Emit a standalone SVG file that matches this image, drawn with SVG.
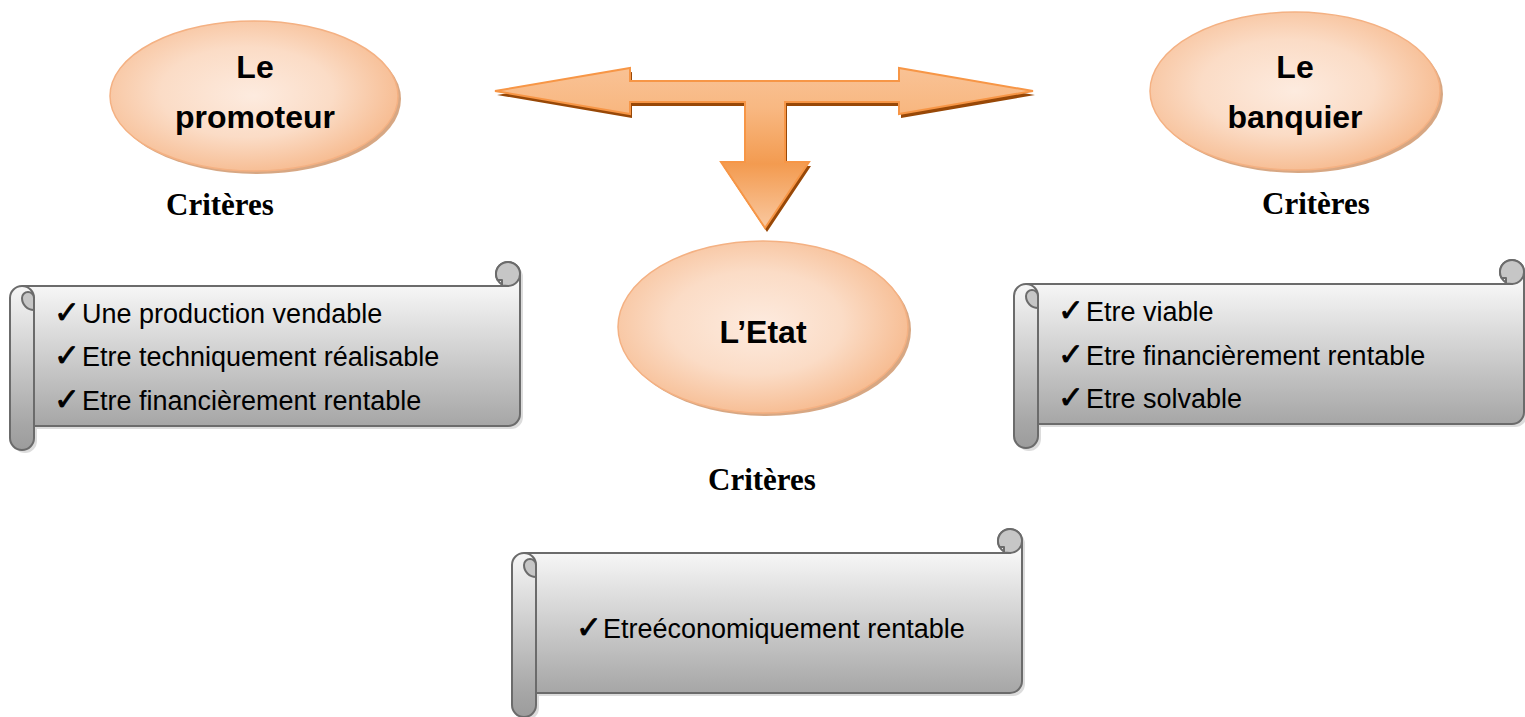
<svg xmlns="http://www.w3.org/2000/svg" xmlns:xlink="http://www.w3.org/1999/xlink" width="1525" height="717" viewBox="0 0 1525 717">
<style>
.ell{fill:url(#ellGrad);stroke:#f4b183;stroke-width:1.5}
.ellsh{fill:#c98a5a;opacity:0.75}
.title{font-family:"Liberation Sans",Arial,sans-serif;font-weight:bold;font-size:32px;fill:#000;text-anchor:middle}
.crit{font-family:"Liberation Serif","Times New Roman",serif;font-weight:bold;font-size:31px;fill:#000}
.item{font-family:"Liberation Sans",Arial,sans-serif;font-size:27px;fill:#000}
.chk{font-family:"DejaVu Sans",sans-serif;font-size:31px;stroke:#000;stroke-width:0.8}
.sc-out{fill:url(#scGrad);stroke:#6b6b6b;stroke-width:2;stroke-linejoin:round}
.sc-line{fill:none;stroke:#6b6b6b;stroke-width:2;stroke-linejoin:round}
.sc-dark{fill:#c6c6c6;stroke:#6b6b6b;stroke-width:2;stroke-linejoin:round}
.sc-sh{fill:#9a9a9a;opacity:0.35}
</style>
<defs>
<radialGradient id="ellGrad" cx="0.45" cy="0.45" r="0.6" fx="0.5" fy="0.5">
<stop offset="0" stop-color="#fdebdf"/>
<stop offset="0.5" stop-color="#fbdcc6"/>
<stop offset="1" stop-color="#f6b88b"/>
</radialGradient>
<linearGradient id="scGrad" x1="0" y1="0" x2="0" y2="1">
<stop offset="0" stop-color="#ffffff"/>
<stop offset="0.13" stop-color="#f6f6f6"/>
<stop offset="0.87" stop-color="#a6a6a6"/>
<stop offset="1" stop-color="#9c9c9c"/>
</linearGradient>
<linearGradient id="arGrad" gradientUnits="userSpaceOnUse" x1="0" y1="68" x2="0" y2="228">
<stop offset="0" stop-color="#f9c295"/>
<stop offset="0.25" stop-color="#f8b882"/>
<stop offset="0.6" stop-color="#f39b50"/>
<stop offset="1" stop-color="#f9c8a0"/>
</linearGradient>
<g id="scroll">
<path class="sc-sh" transform="translate(3,3)" d="M 0,36 A 12 12 0 0 1 12,24 H 498 A 12 12 0 1 1 510,12 V 152 A 12 12 0 0 1 498,164 H 24 V 176 A 12 12 0 0 1 0,176 Z"/>
<path class="sc-out" d="M 0,36 A 12 12 0 0 1 12,24 H 498 A 12 12 0 1 1 510,12 V 152 A 12 12 0 0 1 498,164 H 24 V 176 A 12 12 0 0 1 0,176 Z"/>
<path class="sc-line" d="M 12,24 A 12 12 0 0 1 24,36 V 164"/>
<path class="sc-dark" d="M 24,36 A 6 6 0 0 0 12,36 A 12 12 0 0 0 24,48 Z"/>
<path class="sc-dark" d="M 492,23.5 V 18 H 487.6 A 12 12 0 1 1 498,24 Z"/>
</g>
</defs>
<rect width="1525" height="717" fill="#ffffff"/>

<g id="connectors">
<polygon transform="translate(2,4)" fill="#984807" points="495,91 630,68 630,81 899,81 899,68 1033,91 899,114 899,102 785,102 785,162 809,162 765,228 721,162 745,162 745,102 630,102 630,114"/>
<polygon fill="url(#arGrad)" stroke="#f79646" stroke-width="2" stroke-linejoin="miter" points="495,91 630,68 630,81 899,81 899,68 1033,91 899,114 899,102 785,102 785,162 809,162 765,228 721,162 745,162 745,102 630,102 630,114"/>
</g>

<g id="node-promoteur">
<ellipse class="ellsh" cx="257" cy="99" rx="144" ry="75"/>
<ellipse class="ell" cx="254" cy="96" rx="144" ry="75"/>
<text class="title" x="255" y="78">Le</text>
<text class="title" x="255" y="128">promoteur</text>
</g>

<g id="node-banquier">
<ellipse class="ellsh" cx="1298" cy="94" rx="145" ry="79"/>
<ellipse class="ell" cx="1295" cy="91" rx="145" ry="79"/>
<text class="title" x="1295" y="78">Le</text>
<text class="title" x="1295" y="128">banquier</text>
</g>

<g id="node-etat">
<ellipse class="ellsh" cx="766" cy="330" rx="145" ry="86"/>
<ellipse class="ell" cx="763" cy="327" rx="145" ry="86"/>
<text class="title" x="763" y="343">L’Etat</text>
</g>

<g id="label-criteres-promoteur">
<text class="crit" x="166" y="215">Critères</text>
</g>
<g id="label-criteres-banquier">
<text class="crit" x="1262" y="214">Critères</text>
</g>
<g id="label-criteres-etat">
<text class="crit" x="708" y="490">Critères</text>
</g>

<g id="scroll-promoteur">
<use xlink:href="#scroll" href="#scroll" transform="translate(10,262)"/>
<text class="item" x="54" y="323"><tspan class="chk">✓</tspan><tspan x="82">Une production vendable</tspan></text>
<text class="item" x="54" y="366"><tspan class="chk">✓</tspan><tspan x="82">Etre techniquement réalisable</tspan></text>
<text class="item" x="54" y="410"><tspan class="chk">✓</tspan><tspan x="82">Etre financièrement rentable</tspan></text>
</g>

<g id="scroll-banquier">
<use xlink:href="#scroll" href="#scroll" transform="translate(1014,260)"/>
<text class="item" x="1058" y="321"><tspan class="chk">✓</tspan><tspan x="1086">Etre viable</tspan></text>
<text class="item" x="1058" y="365"><tspan class="chk">✓</tspan><tspan x="1086">Etre financièrement rentable</tspan></text>
<text class="item" x="1058" y="408"><tspan class="chk">✓</tspan><tspan x="1086">Etre solvable</tspan></text>
</g>

<g id="scroll-etat">
<use xlink:href="#scroll" href="#scroll" transform="translate(512,529)"/>
<text class="item" x="576" y="638"><tspan class="chk">✓</tspan><tspan x="603">Etreéconomiquement rentable</tspan></text>
</g>
</svg>
